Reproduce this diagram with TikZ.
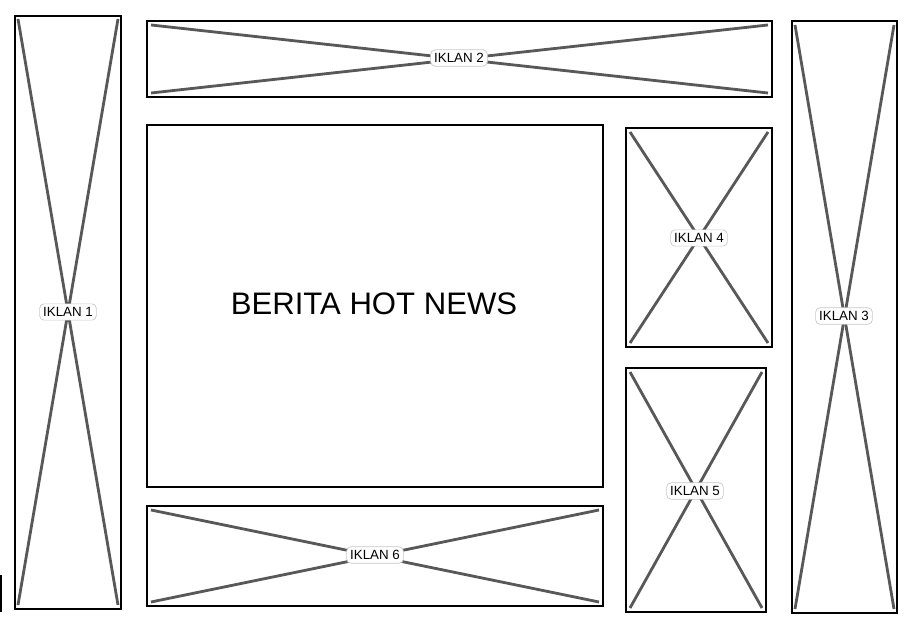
\documentclass[tikz,border=0pt]{standalone}
\usepackage{fontspec}
\setmainfont{Liberation Sans}
\usepackage{xcolor}
\definecolor{crossgray}{RGB}{88,88,88}
\definecolor{taggray}{RGB}{200,200,200}

\begin{document}
\begin{tikzpicture}[x=0.02cm, y=-0.02cm,
  box/.style={line width=1.4pt, black},
  cross/.style={line width=1.6pt, crossgray},
  tag/.style={draw=taggray, fill=white, rounded corners=2.5pt, inner xsep=2pt, inner ysep=2pt, font=\fontsize{7.6}{8}\selectfont}]
  \useasboundingbox (0,0) rectangle (916,621);
  % iklan 1 (left)
  \draw[box] (15,16) rectangle (121,609);
  \draw[cross] (18,19) -- (118,605);
  \draw[cross] (118,19) -- (18,605);
  \node[tag] (iklan1) at (68,312) {IKLAN 1};
  % iklan 2 (top)
  \draw[box] (147,21) rectangle (772,97);
  \draw[cross] (151,25) -- (768,93);
  \draw[cross] (768,25) -- (151,93);
  \node[tag] (iklan2) at (459,58) {IKLAN 2};
  % iklan 3 (right)
  \draw[box] (792,21) rectangle (897,613);
  \draw[cross] (795,25) -- (894,609);
  \draw[cross] (894,25) -- (795,609);
  \node[tag] (iklan3) at (844,316) {IKLAN 3};
  % berita
  \draw[box] (147,125) rectangle (603,487);
  \node (berita) at (374,304) {\fontsize{17.7}{21}\selectfont BERITA HOT NEWS};
  % iklan 4
  \draw[box] (626,128) rectangle (772,347);
  \draw[cross] (630,132) -- (768,343);
  \draw[cross] (768,132) -- (630,343);
  \node[tag] (iklan4) at (699,238) {IKLAN 4};
  % iklan 5
  \draw[box] (626,368) rectangle (766,612);
  \draw[cross] (630,372) -- (762,608);
  \draw[cross] (762,372) -- (630,608);
  \node[tag] (iklan5) at (695,491) {IKLAN 5};
  % iklan 6 (bottom)
  \draw[box] (147,506) rectangle (603,606);
  \draw[cross] (151,510) -- (599,602);
  \draw[cross] (599,510) -- (151,602);
  \node[tag] (iklan6) at (375,555) {IKLAN 6};
  % stray edge
  \draw[line width=1pt] (1,575) -- (1,612);
\end{tikzpicture}
\end{document}
